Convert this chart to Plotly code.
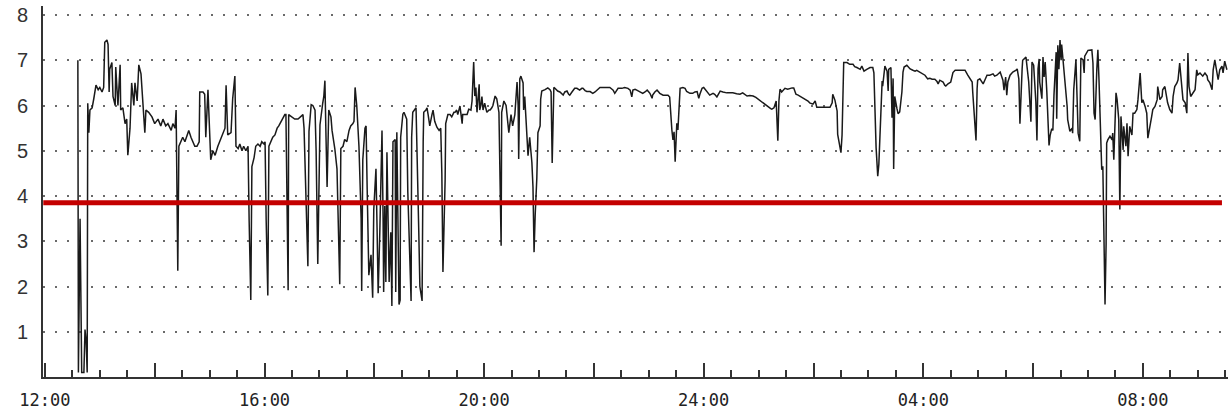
import plotly.graph_objects as go

# 24-hour oesophageal pH recording, time in hours after 12:00
time_h = [
    0.60, 0.61, 0.64, 0.67, 0.71, 0.73, 0.75, 0.77, 0.78, 0.80, 0.82, 0.86, 0.89, 0.93, 0.97, 1.00,
    1.04, 1.07, 1.09, 1.13, 1.15, 1.17, 1.18, 1.22, 1.24, 1.28, 1.29, 1.33, 1.37, 1.38, 1.42, 1.46,
    1.49, 1.51, 1.55, 1.58, 1.62, 1.64, 1.68, 1.71, 1.75, 1.79, 1.82, 1.84, 1.89, 1.95, 2.00, 2.06,
    2.11, 2.15, 2.20, 2.24, 2.30, 2.33, 2.37, 2.39, 2.40, 2.42, 2.44, 2.48, 2.51, 2.55, 2.59, 2.62,
    2.66, 2.70, 2.73, 2.77, 2.81, 2.82, 2.88, 2.91, 2.93, 2.97, 2.99, 3.02, 3.06, 3.10, 3.15, 3.21,
    3.24, 3.28, 3.30,
    3.32, 3.33, 3.39, 3.42, 3.46, 3.48, 3.52, 3.55, 3.59, 3.62, 3.66, 3.70, 3.72, 3.75, 3.77, 3.81,
    3.84, 3.88, 3.92, 3.95, 3.99, 4.01, 4.03, 4.06, 4.08, 4.12, 4.15, 4.19, 4.23, 4.26, 4.30, 4.34,
    4.37, 4.39, 4.41, 4.43, 4.44, 4.50, 4.55, 4.61, 4.66, 4.70, 4.72, 4.74, 4.77, 4.79, 4.81, 4.85,
    4.88, 4.92, 4.94, 4.95, 4.97, 5.01, 5.05, 5.06, 5.08, 5.10, 5.12, 5.14, 5.17, 5.21, 5.23, 5.26,
    5.28, 5.32, 5.34, 5.37, 5.39, 5.43, 5.46, 5.50, 5.54, 5.57, 5.61, 5.63, 5.65, 5.68, 5.72, 5.76,
    5.77, 5.79, 5.83, 5.85, 5.87, 5.90, 5.94, 5.96, 5.97, 5.99, 6.03, 6.05, 6.07, 6.10, 6.14, 6.16,
    6.17,
    6.19, 6.21, 6.23, 6.27, 6.30, 6.32, 6.34, 6.38, 6.39, 6.41, 6.45, 6.47, 6.48, 6.52, 6.54, 6.58,
    6.59, 6.61, 6.65, 6.67, 6.68, 6.70, 6.76, 6.78, 6.81, 6.83, 6.87, 6.89, 6.90, 6.94, 6.96, 6.98,
    7.01, 7.05, 7.07, 7.10, 7.14, 7.18, 7.21, 7.23, 7.25, 7.29, 7.30, 7.34, 7.38, 7.41, 7.45, 7.47,
    7.50, 7.52, 7.56, 7.60, 7.61, 7.65, 7.69, 7.72, 7.76, 7.78, 7.80, 7.81, 7.83, 7.85, 7.87, 7.91,
    7.92, 7.94, 7.96, 7.98, 8.01, 8.05, 8.09, 8.11, 8.14, 8.16, 8.20, 8.23, 8.27, 8.29, 8.31, 8.32,
    8.36, 8.40, 8.43, 8.45, 8.49, 8.52, 8.56, 8.60, 8.62, 8.63, 8.65, 8.67, 8.71, 8.72, 8.74, 8.78,
    8.80, 8.83, 8.87, 8.89, 8.91, 8.93, 8.96, 8.98, 9.02, 9.03, 9.05, 9.11, 9.16, 9.20, 9.22, 9.24,
    9.25, 9.27,
    9.29, 9.34, 9.38, 9.42, 9.44, 9.47, 9.51, 9.54, 9.56, 9.60, 9.62, 9.65, 9.69, 9.73, 9.74, 9.78,
    9.80, 9.84, 9.87, 9.93, 9.96, 9.98, 10.02, 10.05, 10.11, 10.16, 10.20, 10.26, 10.29, 10.33, 10.35,
    10.38, 10.40, 10.44, 10.47, 10.51, 10.56, 10.62, 10.66, 10.69, 10.71, 10.75, 10.78, 10.84, 10.86,
    10.89, 10.93, 10.97, 11.00, 11.02, 11.06, 11.07, 11.11, 11.15, 11.18, 11.20, 11.26, 11.31, 11.35,
    11.38, 11.40, 11.42, 11.44, 11.46, 11.48, 11.49, 11.51, 11.53, 11.55, 11.57, 11.62, 11.66, 11.69,
    11.75, 11.80, 11.84, 11.88, 11.91, 11.93, 11.97, 12.00, 12.06, 12.11, 12.17, 12.20, 12.24, 12.30,
    12.35, 12.42, 12.48, 12.53, 12.60, 12.66, 12.71, 12.75, 12.79, 12.84, 12.90, 12.95, 12.99, 13.04,
    13.08, 13.13, 13.17, 13.22, 13.24, 13.28, 13.32, 13.33, 13.35, 13.37, 13.39, 13.42, 13.48, 13.53,
    13.57, 13.61, 13.64, 13.68, 13.72, 13.75, 13.81, 13.84, 13.90, 13.93, 13.99, 14.03, 14.06, 14.12,
    14.19, 14.24, 14.30, 14.34, 14.35, 14.39, 14.43, 14.44, 14.48, 14.50, 14.52, 14.55, 14.61, 14.66,
    14.72, 14.75, 14.79, 14.85, 14.88, 14.92, 14.97, 15.03, 15.08, 15.10, 15.14, 15.16, 15.17, 15.19,
    15.23, 15.25, 15.26, 15.30, 15.34, 15.36, 15.37, 15.41, 15.43, 15.45, 15.46, 15.48,
    15.52, 15.54, 15.57, 15.61, 15.63, 15.65, 15.70, 15.76, 15.81, 15.85, 15.88, 15.94, 15.97, 16.03,
    16.08, 16.12, 16.16, 16.21, 16.25, 16.27, 16.30, 16.36, 16.39, 16.41, 16.45, 16.50, 16.54, 16.58,
    16.63, 16.67, 16.72, 16.76, 16.81, 16.85, 16.89, 16.90, 16.92, 16.96, 16.98, 16.99, 17.03, 17.09,
    17.12, 17.16, 17.21, 17.27, 17.30, 17.34, 17.40, 17.43, 17.45, 17.47, 17.50, 17.52, 17.54, 17.58,
    17.63, 17.69, 17.71, 17.74, 17.76, 17.80, 17.81, 17.87, 17.89, 17.92, 17.96, 17.98, 18.01, 18.05,
    18.07, 18.09, 18.11, 18.12, 18.16, 18.18, 18.20, 18.22, 18.25, 18.27, 18.29, 18.31, 18.34, 18.36,
    18.38, 18.42, 18.43, 18.45, 18.47, 18.49, 18.51, 18.52,
    18.58, 18.62, 18.63, 18.67, 18.71, 18.72, 18.74, 18.78, 18.80, 18.82, 18.85, 18.87, 18.91, 18.93,
    18.94, 18.98, 19.00, 19.07, 19.09, 19.11, 19.13, 19.16, 19.18, 19.20, 19.22, 19.25, 19.27, 19.29,
    19.31, 19.33, 19.34, 19.36, 19.40, 19.44, 19.45, 19.47, 19.51, 19.53, 19.56, 19.58, 19.60, 19.64,
    19.65, 19.69, 19.71, 19.73, 19.76, 19.80, 19.82, 19.85, 19.89, 19.91, 19.95, 19.98, 20.00, 20.04,
    20.07, 20.09, 20.13, 20.16, 20.18, 20.22, 20.26, 20.27, 20.31, 20.35, 20.36, 20.40, 20.44, 20.45,
    20.49, 20.53, 20.55, 20.58, 20.62, 20.64, 20.67, 20.71, 20.73, 20.77, 20.80, 20.82, 20.84, 20.87,
    20.91, 20.95, 20.98, 21.00, 21.04, 21.09, 21.13, 21.17, 21.18, 21.22, 21.26, 21.28, 21.31, 21.35,
    21.37, 21.40, 21.44, 21.46, 21.49, 21.53,
]

ph = [
    7.0, 0.1, 3.5, 0.1, 0.1, 1.05, 0.8, 0.1, 6.05, 5.4, 5.9, 5.95, 6.15, 6.45, 6.35, 6.4,
    6.3, 6.4, 7.4, 7.45, 7.35, 6.3, 6.8, 6.95, 6.2, 6.0, 6.85, 6.0, 6.9, 5.9, 5.95, 5.6,
    5.7, 4.9, 5.5, 6.5, 6.0, 6.5, 6.1, 6.9, 6.7, 6.0, 5.4, 5.9, 5.85, 5.75, 5.6, 5.7,
    5.55, 5.7, 5.55, 5.6, 5.45, 5.6, 5.5, 5.9, 4.1, 2.35, 5.1, 5.2, 5.3, 5.2, 5.35, 5.45,
    5.3, 5.2, 5.1, 5.1, 5.2, 6.3, 6.3, 6.25, 5.3, 6.35, 5.5, 4.8, 5.0, 4.9, 5.1, 5.3,
    5.4, 5.5, 6.45,
    5.85, 5.35, 5.4, 6.15, 6.65, 5.1, 5.05, 5.15, 5.0, 5.1, 5.0, 5.1, 3.45, 1.7, 4.65, 4.85,
    5.1, 5.15, 5.1, 5.2, 5.15, 5.2, 3.47, 1.8, 5.1, 5.2, 5.3, 5.35, 5.5, 5.55, 5.65, 5.72,
    5.8, 5.8, 3.9, 1.92, 5.8, 5.75, 5.7, 5.7, 5.75, 5.8, 5.5, 4.62, 3.4, 2.45, 5.43, 6.02,
    6.0, 5.9, 5.0, 3.5, 2.5, 5.57, 6.05, 6.05, 6.2, 6.55, 5.3, 4.2, 5.9, 5.75, 5.45, 5.25,
    5.05, 4.6, 3.75, 2.05, 5.05, 5.1, 5.25, 5.2, 5.45, 5.55, 5.6, 5.65, 6.4, 6.0, 5.1, 3.5,
    1.9, 4.8, 5.5, 5.55, 4.15, 2.25, 2.7, 1.9, 1.75, 3.7, 4.6, 3.3, 1.85, 3.2, 5.45, 3.5,
    1.88,
    3.78, 2.1, 4.97, 2.1, 3.2, 1.57, 5.2, 5.25, 1.88, 5.41, 1.6, 1.7, 5.3, 5.81, 5.85, 5.75,
    5.7, 4.09, 2.61, 1.68, 5.3, 5.85, 5.95, 4.53, 3.2, 2.0, 1.68, 5.2, 5.85, 5.9, 5.95, 5.8,
    5.55, 5.8, 5.9, 5.65, 5.52, 5.45, 5.5, 4.5, 2.32, 4.37, 5.6, 5.8, 5.8, 5.75, 5.85, 5.85,
    5.9, 5.8, 5.99, 5.6, 5.8, 5.8, 5.8, 5.92, 5.9, 6.1, 6.54, 6.96, 6.21, 6.4, 5.85, 6.47,
    5.9, 6.0, 6.2, 5.9, 6.05, 5.85, 5.9, 5.9, 5.95, 6.0, 6.21, 6.15, 5.85, 4.6, 2.9, 5.85,
    6.1, 6.0, 5.6, 5.4, 5.8, 5.55, 5.8, 6.52, 6.0, 4.82, 6.59, 6.65, 6.5, 5.9, 6.2, 5.4,
    4.89, 5.3, 4.74, 4.2, 2.76, 3.57, 4.4, 5.4, 5.55, 6.14, 6.32, 6.35, 6.39, 6.35, 6.3, 4.73,
    5.5, 6.4,
    6.38, 6.32, 6.3, 6.25, 6.23, 6.3, 6.32, 6.25, 6.23, 6.3, 6.34, 6.38, 6.38, 6.34, 6.34, 6.38,
    6.38, 6.33, 6.31, 6.31, 6.28, 6.27, 6.3, 6.34, 6.4, 6.4, 6.4, 6.4, 6.4, 6.36, 6.34,
    6.27, 6.3, 6.38, 6.38, 6.38, 6.4, 6.38, 6.34, 6.19, 6.34, 6.36, 6.34, 6.31, 6.3,
    6.27, 6.3, 6.34, 6.3, 6.27, 6.16, 6.23, 6.3, 6.34, 6.3, 6.27, 6.23, 6.23, 6.23,
    6.19, 5.75, 5.46, 5.24, 5.42, 4.76, 5.1, 5.61, 5.46, 5.97, 6.38, 6.4, 6.38, 6.31,
    6.27, 6.27, 6.3, 6.31, 6.16, 6.25, 6.38, 6.4, 6.31, 6.23, 6.27, 6.25, 6.19, 6.32,
    6.3, 6.28, 6.28, 6.28, 6.26, 6.25, 6.28, 6.25, 6.21, 6.22, 6.21, 6.18, 6.14, 6.1,
    6.06, 6.0, 5.97, 5.93, 5.92, 5.95, 6.1, 5.58, 5.22, 6.1, 6.36, 6.3, 6.38, 6.36,
    6.38, 6.39, 6.39, 6.25, 6.23, 6.21, 6.17, 6.14, 6.1, 6.06, 6.03, 6.1, 5.96, 5.96,
    5.96, 5.96, 5.96, 6.06, 6.25, 6.12, 5.88, 5.36, 5.03, 4.96, 5.35, 6.95, 6.95, 6.91,
    6.91, 6.86, 6.84, 6.8, 6.87, 6.76, 6.8, 6.84, 6.84, 6.72, 5.07, 4.63, 4.44, 4.7,
    5.88, 6.54, 6.43, 6.87, 6.76, 6.32, 6.8, 6.84, 5.73, 6.6, 4.6, 6.2,
    5.93, 5.82, 5.86, 6.3, 6.74, 6.85, 6.89, 6.81, 6.78, 6.76, 6.78, 6.74, 6.72, 6.67,
    6.59, 6.6, 6.58, 6.58, 6.53, 6.48, 6.56, 6.52, 6.45, 6.43, 6.48, 6.52, 6.73, 6.78,
    6.78, 6.78, 6.78, 6.78, 6.67, 6.59, 6.52, 6.3, 5.86, 5.23, 6.37, 6.56, 6.59, 6.48,
    6.56, 6.67, 6.67, 6.7, 6.65, 6.67, 6.74, 6.6, 6.56, 6.34, 6.63, 6.23, 6.52, 6.67,
    6.74, 6.78, 6.81, 6.59, 5.6, 6.81, 7.0, 7.07, 6.81, 6.52, 5.64, 6.96, 6.89, 6.08,
    5.23, 6.81, 7.03, 6.52, 6.15, 7.07, 6.63, 6.96, 6.3, 5.49, 5.12, 5.34, 5.49, 5.45,
    6.23, 7.18, 5.71, 7.33, 6.8, 7.45, 7.0, 7.35,
    6.57, 5.98, 5.69, 5.43, 5.5, 5.39, 6.35, 7.01, 6.2, 5.39, 5.21, 7.05, 7.01, 6.72,
    7.09, 7.16, 7.22, 7.23, 6.94, 5.83, 5.69, 6.79, 7.23, 6.57, 5.83, 4.58, 4.66, 2.59,
    1.6, 2.96, 5.17, 5.24, 5.32, 5.24, 5.39, 4.8, 6.28, 6.13, 5.69, 3.7, 5.76, 5.02,
    5.54, 5.1, 5.61, 4.88, 5.54, 5.35, 5.83, 5.83, 5.91, 6.13, 6.72, 6.06, 6.13, 5.98,
    5.83, 5.28, 5.61, 5.76, 5.91, 5.98, 6.13, 6.42, 6.13, 6.2, 6.35, 6.42, 6.13, 6.06,
    5.91, 5.83, 6.2, 6.42, 6.5, 6.57, 6.94, 6.35, 6.13, 6.06, 5.83, 7.16, 6.42, 6.2,
    6.28, 6.35, 6.79, 6.68, 6.72, 6.65, 6.72, 6.65, 6.57, 6.5, 6.35, 6.79, 7.01, 6.65,
    6.57, 6.79, 6.87, 6.72, 6.98, 6.79,
]

# axis ticks
major_tick_hours = [0, 2, 4, 6, 8, 10, 12, 14, 16, 18, 20]
major_tick_labels = ["12:00", "", "16:00", "", "20:00", "", "24:00", "", "04:00", "", "08:00"]
ph_ticks = [1, 2, 3, 4, 5, 6, 7, 8]

# acid threshold line (hand drawn in the original)
threshold_ph = 3.85
threshold_start_h = -0.03
threshold_end_h = 21.44

x_range = [-0.035, 21.55]
y_range = [0, 8.2]

fig = go.Figure()
fig.add_trace(go.Scatter(
    x=time_h, y=ph, mode="lines",
    line=dict(color="#1a1a1a", width=1.5),
    hoverinfo="x+y", showlegend=False,
))

fig.add_shape(
    type="line", xref="x", yref="y",
    x0=threshold_start_h, x1=threshold_end_h, y0=threshold_ph, y1=threshold_ph,
    line=dict(color="#C40000", width=5), layer="above",
)

fig.update_layout(
    width=1230, height=412,
    margin=dict(l=43, r=2, t=6, b=35, autoexpand=False),
    paper_bgcolor="white", plot_bgcolor="white",
    showlegend=False,
)

fig.update_xaxes(
    range=x_range, automargin=False,
    tickmode="array", tickvals=major_tick_hours, ticktext=major_tick_labels,
    ticks="inside", ticklen=14, tickwidth=1.8, tickcolor="#333",
    minor=dict(dtick=0.5, tick0=0, ticks="inside", ticklen=7, tickwidth=1.5,
               tickcolor="#333", showgrid=False),
    showgrid=False, zeroline=False,
    showline=True, linecolor="#333", linewidth=2,
    tickfont=dict(family="DejaVu Sans Mono", size=17, color="#222"),
    ticklabelstandoff=7,
)

fig.update_yaxes(
    range=y_range, automargin=False,
    tickmode="array", tickvals=ph_ticks, ticktext=[str(v) for v in ph_ticks],
    ticks="",
    showgrid=True, gridcolor="#6a6a6a", gridwidth=1.6, griddash="2px,10px",
    zeroline=False,
    showline=True, linecolor="#333", linewidth=2,
    tickfont=dict(family="Liberation Sans Narrow, Liberation Sans, Arial", size=20, color="#333"),
    ticklabelstandoff=9,
)

fig.write_html(
    "out.html",
    config={"displayModeBar": False},
    post_script="document.body.style.margin='0';document.body.style.padding='0';",
)
